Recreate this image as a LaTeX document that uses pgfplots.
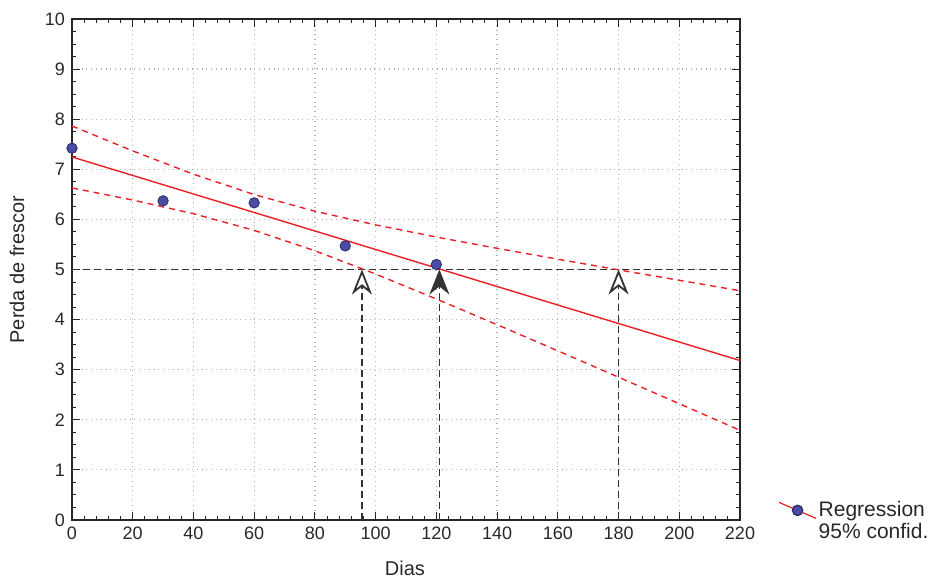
\documentclass[border=0pt]{standalone}
\usepackage{fontspec}
\setmainfont{Liberation Sans}
\usepackage{pgfplots}
\pgfplotsset{compat=1.18}
\usetikzlibrary{arrows.meta}
\definecolor{regred}{RGB}{235,30,35}
\definecolor{ptblue}{RGB}{75,75,165}
\definecolor{txt}{RGB}{40,40,40}
\begin{document}
\begin{tikzpicture}
\path[use as bounding box] (0,0) rectangle (466pt,290.5pt);
\begin{axis}[
  at={(36pt,30.5pt)}, anchor=south west,
  scale only axis, width=334pt, height=250.5pt,
  xmin=0, xmax=220, ymin=0, ymax=10,
  xtick distance=20, ytick distance=1,
  minor x tick num=4, minor y tick num=3,
  tick align=inside,
  major tick length=4pt, minor tick length=2pt,
  grid=major, major grid style={dotted, gray!60, line width=0.6pt},
  axis line style={black!85, line width=0.7pt},
  tick style={black!85, line width=0.5pt},
  every tick label/.append style={font=\fontsize{9}{11}\selectfont, text=txt},
  /pgf/number format/assume math mode=true,
  xlabel={Dias}, ylabel={Perda de frescor},
  label style={font=\fontsize{10}{12}\selectfont, text=txt},
  xlabel style={at={(axis description cs:0.4985,-0.097)}, anchor=center},
  ylabel style={at={(axis description cs:-0.0823,0.5)}, anchor=center},
  clip=false,
  legend style={at={(axis description cs:1.057,-0.003)}, anchor=west, draw=none, fill=none,
    font=\fontsize{10.5}{12}\selectfont, text=txt, inner sep=0pt, row sep=0pt,
    nodes={inner sep=1.0pt}},
  legend cell align=left,
]
\addlegendimage{legend image code/.code={
  \draw[regred, line width=0.6pt, mark=*, mark size=2.6pt, mark options={draw=ptblue!60!black, fill=ptblue}, mark repeat=2, mark phase=2]
    plot coordinates {(0pt,4pt)(9.25pt,0pt)(18.5pt,-4pt)};}}
\addlegendentry{Regression}
\addlegendimage{legend image code/.code={}}
\addlegendentry{95\% confid.}

% reference line at 5
\addplot[black!80, dash pattern=on 3.5pt off 2pt, line width=0.7pt, forget plot] coordinates {(0,5)(220,5)};
% arrows
\addplot[black!80, dash pattern=on 3.5pt off 2pt, line width=0.9pt, -{Stealth[length=12.5pt, width=10pt, inset=4pt, open, fill=white]}, forget plot] coordinates {(95.5,0)(95.5,5)};
\addplot[black!80, dash pattern=on 3.5pt off 2pt, line width=0.9pt, -{Stealth[length=12.5pt, width=10pt, inset=4pt, fill=black!80]}, forget plot] coordinates {(121,0)(121,5)};
\addplot[black!80, dash pattern=on 3.5pt off 2pt, line width=0.9pt, -{Stealth[length=12.5pt, width=10pt, inset=4pt, open, fill=white]}, forget plot] coordinates {(180,0)(180,5)};
% regression
\addplot[regred, line width=0.7pt, forget plot] coordinates {(0,7.246)(220,3.183)};
% confidence bands
\addplot[regred, line width=0.7pt, dash pattern=on 3pt off 2.5pt, forget plot] coordinates {
(0,7.864)(20,7.367)(40,6.902)(60,6.495)(80,6.163)(100,5.890)(120,5.648)(140,5.423)(160,5.205)(180,4.993)(200,4.784)(220,4.576)};
\addplot[regred, line width=0.7pt, dash pattern=on 3pt off 2.5pt, forget plot] coordinates {
(0,6.628)(20,6.386)(40,6.113)(60,5.781)(80,5.374)(100,4.909)(120,4.411)(140,3.898)(160,3.377)(180,2.850)(200,2.321)(220,1.790)};
% data
\addplot[only marks, mark=*, mark size=2.6pt, draw=ptblue!60!black, fill=ptblue, forget plot] coordinates {
(0,7.42)(30,6.37)(60,6.33)(90,5.47)(120,5.10)};
\end{axis}
\end{tikzpicture}
\end{document}
